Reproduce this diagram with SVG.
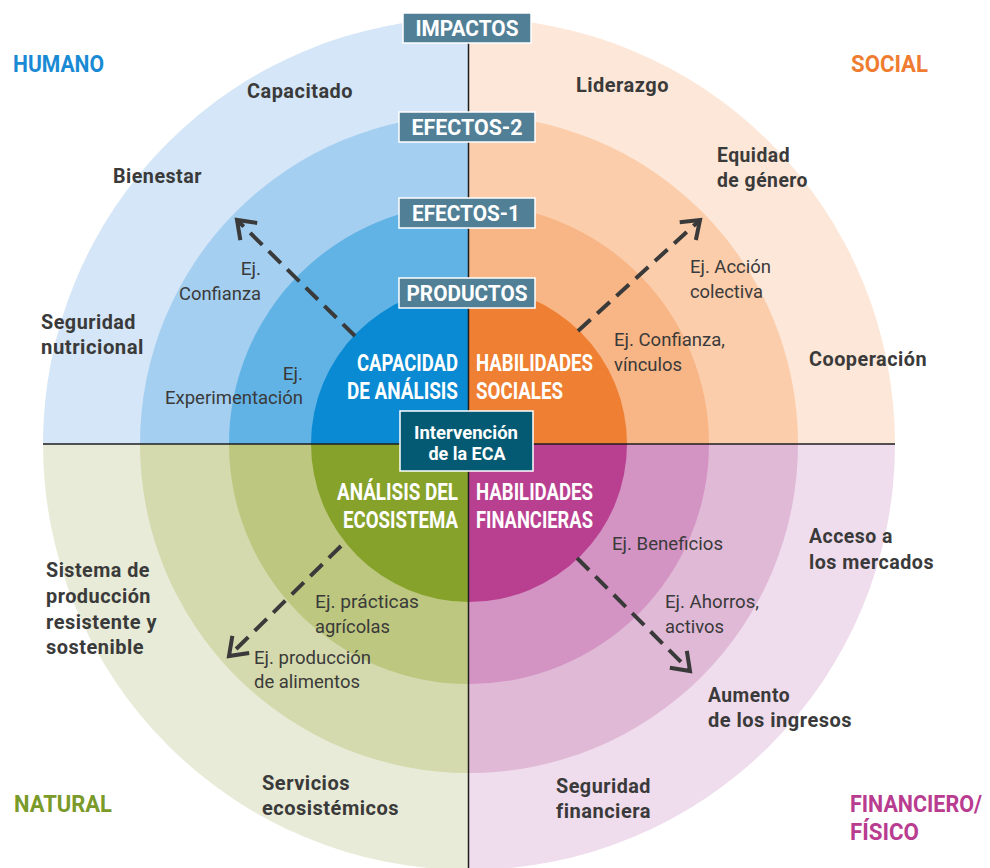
<svg xmlns="http://www.w3.org/2000/svg" width="990" height="868" viewBox="0 0 990 868">
<style>
text{font-family:Roboto,"Liberation Sans",sans-serif;}
.q{font-weight:700;font-size:23px;}
.o{font-weight:700;font-size:20px;fill:#3a3a3a;letter-spacing:0.5px;}
.e{font-size:19px;fill:#3a3a3a;}
.c{font-weight:700;font-size:23px;fill:#fff;}
.b{font-weight:700;font-size:22px;fill:#fff;text-anchor:middle;}
.box{fill:#517f96;stroke:#fff;stroke-width:1.5;}
.arr{fill:none;stroke:#3a3a3a;stroke-width:4;stroke-dasharray:17 9;marker-end:url(#ah);}
</style>
<defs>
<clipPath id="tl"><rect x="0" y="0" width="468.5" height="444"/></clipPath>
<clipPath id="tr"><rect x="468.5" y="0" width="521.5" height="444"/></clipPath>
<clipPath id="bl"><rect x="0" y="444" width="468.5" height="424"/></clipPath>
<clipPath id="br"><rect x="468.5" y="444" width="521.5" height="424"/></clipPath>
<marker id="ah" markerWidth="8" markerHeight="8" viewBox="0 0 8 8" refX="6.5" refY="4" orient="auto" markerUnits="userSpaceOnUse" overflow="visible">
<path d="M-10,-8 L6.5,4 L-10,16" fill="none" stroke="#3a3a3a" stroke-width="4" stroke-linejoin="miter"/>
</marker>
</defs>

<g id="humano" clip-path="url(#tl)">
<circle cx="469" cy="444" r="426" fill="#d4e6f7"/>
<circle cx="469" cy="444" r="329" fill="#a4cff0"/>
<circle cx="469" cy="444" r="240" fill="#62b3e5"/>
<circle cx="469" cy="444" r="158" fill="#0a8ad2"/>
</g>
<g id="social" clip-path="url(#tr)">
<circle cx="469" cy="444" r="426" fill="#fde7d8"/>
<circle cx="469" cy="444" r="329" fill="#fbcdab"/>
<circle cx="469" cy="444" r="240" fill="#f8b585"/>
<circle cx="469" cy="444" r="158" fill="#ef7f32"/>
</g>
<g id="natural" clip-path="url(#bl)">
<circle cx="469" cy="444" r="426" fill="#e8ebd7"/>
<circle cx="469" cy="444" r="329" fill="#d4daad"/>
<circle cx="469" cy="444" r="240" fill="#bdc780"/>
<circle cx="469" cy="444" r="158" fill="#86a22b"/>
</g>
<g id="financiero" clip-path="url(#br)">
<circle cx="469" cy="444" r="426" fill="#efdcec"/>
<circle cx="469" cy="444" r="329" fill="#e0b9d7"/>
<circle cx="469" cy="444" r="240" fill="#d394c3"/>
<circle cx="469" cy="444" r="158" fill="#b93f90"/>
</g>

<g id="connectors">
<line x1="468.5" y1="17" x2="468.5" y2="868" stroke="#1e1e1e" stroke-width="1.5"/>
<line x1="43" y1="444" x2="895" y2="444" stroke="#1e1e1e" stroke-width="1.5"/>
<path class="arr" d="M355,336 L237,220"/>
<path class="arr" d="M578,331 L700,220"/>
<path class="arr" d="M341,546 L229,656"/>
<path class="arr" d="M577,558 L690,671"/>
</g>

<g id="quadrant-labels">
<text class="q" x="13" y="72" fill="#1a8ad4" textLength="91" lengthAdjust="spacingAndGlyphs">HUMANO</text>
<text class="q" x="851" y="72" fill="#ef7d31" textLength="77" lengthAdjust="spacingAndGlyphs">SOCIAL</text>
<text class="q" x="14" y="812" fill="#7a9a2a" textLength="98" lengthAdjust="spacingAndGlyphs">NATURAL</text>
<text class="q" x="850" y="812" fill="#b83c8f" textLength="132" lengthAdjust="spacingAndGlyphs">FINANCIERO/</text>
<text class="q" x="850" y="840" fill="#b83c8f" textLength="69" lengthAdjust="spacingAndGlyphs">FÍSICO</text>
</g>

<g id="impactos-labels">
<text class="o" x="247" y="98" textLength="106" lengthAdjust="spacingAndGlyphs">Capacitado</text>
<text class="o" x="576" y="92" textLength="93" lengthAdjust="spacingAndGlyphs">Liderazgo</text>
<text class="o" x="113" y="183" textLength="89" lengthAdjust="spacingAndGlyphs">Bienestar</text>
<text class="o" x="717" y="162" textLength="73" lengthAdjust="spacingAndGlyphs">Equidad</text>
<text class="o" x="717" y="187" textLength="91" lengthAdjust="spacingAndGlyphs">de género</text>
<text class="o" x="41" y="329" textLength="95" lengthAdjust="spacingAndGlyphs">Seguridad</text>
<text class="o" x="41" y="354" textLength="103" lengthAdjust="spacingAndGlyphs">nutricional</text>
<text class="o" x="809" y="366" textLength="118" lengthAdjust="spacingAndGlyphs">Cooperación</text>
<text class="o" x="46" y="577" textLength="104" lengthAdjust="spacingAndGlyphs">Sistema de</text>
<text class="o" x="46" y="603" textLength="105" lengthAdjust="spacingAndGlyphs">producción</text>
<text class="o" x="46" y="629" textLength="111" lengthAdjust="spacingAndGlyphs">resistente y</text>
<text class="o" x="46" y="654" textLength="98" lengthAdjust="spacingAndGlyphs">sostenible</text>
<text class="o" x="809" y="543" textLength="84" lengthAdjust="spacingAndGlyphs">Acceso a</text>
<text class="o" x="809" y="569" textLength="125" lengthAdjust="spacingAndGlyphs">los mercados</text>
<text class="o" x="708" y="702" textLength="82" lengthAdjust="spacingAndGlyphs">Aumento</text>
<text class="o" x="708" y="727" textLength="144" lengthAdjust="spacingAndGlyphs">de los ingresos</text>
<text class="o" x="262" y="790" textLength="88" lengthAdjust="spacingAndGlyphs">Servicios</text>
<text class="o" x="262" y="815" textLength="137" lengthAdjust="spacingAndGlyphs">ecosistémicos</text>
<text class="o" x="556" y="793" textLength="95" lengthAdjust="spacingAndGlyphs">Seguridad</text>
<text class="o" x="556" y="818" textLength="95" lengthAdjust="spacingAndGlyphs">financiera</text>
</g>

<g id="efectos-labels">
<text class="e" x="261" y="275" text-anchor="end">Ej.</text>
<text class="e" x="179" y="300" textLength="82" lengthAdjust="spacingAndGlyphs">Confianza</text>
<text class="e" x="303" y="380" text-anchor="end">Ej.</text>
<text class="e" x="165" y="404" textLength="138" lengthAdjust="spacingAndGlyphs">Experimentación</text>
<text class="e" x="690" y="273" textLength="81" lengthAdjust="spacingAndGlyphs">Ej. Acción</text>
<text class="e" x="690" y="298" textLength="73" lengthAdjust="spacingAndGlyphs">colectiva</text>
<text class="e" x="614" y="346" textLength="111" lengthAdjust="spacingAndGlyphs">Ej. Confianza,</text>
<text class="e" x="614" y="371" textLength="68" lengthAdjust="spacingAndGlyphs">vínculos</text>
<text class="e" x="612" y="550" textLength="111" lengthAdjust="spacingAndGlyphs">Ej. Beneficios</text>
<text class="e" x="665" y="608" textLength="94" lengthAdjust="spacingAndGlyphs">Ej. Ahorros,</text>
<text class="e" x="665" y="633" textLength="59" lengthAdjust="spacingAndGlyphs">activos</text>
<text class="e" x="315" y="608" textLength="104" lengthAdjust="spacingAndGlyphs">Ej. prácticas</text>
<text class="e" x="315" y="633" textLength="75" lengthAdjust="spacingAndGlyphs">agrícolas</text>
<text class="e" x="254" y="664" textLength="117" lengthAdjust="spacingAndGlyphs">Ej. producción</text>
<text class="e" x="254" y="688" textLength="106" lengthAdjust="spacingAndGlyphs">de alimentos</text>
</g>

<g id="productos-labels">
<text class="c" x="357" y="371" textLength="101" lengthAdjust="spacingAndGlyphs">CAPACIDAD</text>
<text class="c" x="347" y="399" textLength="111" lengthAdjust="spacingAndGlyphs">DE ANÁLISIS</text>
<text class="c" x="476" y="371" textLength="117" lengthAdjust="spacingAndGlyphs">HABILIDADES</text>
<text class="c" x="476" y="399" textLength="87" lengthAdjust="spacingAndGlyphs">SOCIALES</text>
<text class="c" x="337" y="500" textLength="121" lengthAdjust="spacingAndGlyphs">ANÁLISIS DEL</text>
<text class="c" x="343" y="528" textLength="115" lengthAdjust="spacingAndGlyphs">ECOSISTEMA</text>
<text class="c" x="476" y="500" textLength="117" lengthAdjust="spacingAndGlyphs">HABILIDADES</text>
<text class="c" x="476" y="528" textLength="117" lengthAdjust="spacingAndGlyphs">FINANCIERAS</text>
</g>

<g id="box-impactos">
<rect class="box" x="403" y="13" width="128" height="30"/>
<text class="b" x="467" y="36" textLength="103" lengthAdjust="spacingAndGlyphs">IMPACTOS</text>
</g>
<g id="box-efectos2">
<rect class="box" x="399" y="112" width="136" height="30"/>
<text class="b" x="467" y="135" textLength="111" lengthAdjust="spacingAndGlyphs">EFECTOS-2</text>
</g>
<g id="box-efectos1">
<rect class="box" x="399" y="198" width="136" height="30"/>
<text class="b" x="466" y="221" textLength="108" lengthAdjust="spacingAndGlyphs">EFECTOS-1</text>
</g>
<g id="box-productos">
<rect class="box" x="399" y="278" width="136" height="30"/>
<text class="b" x="467" y="301" textLength="121" lengthAdjust="spacingAndGlyphs">PRODUCTOS</text>
</g>
<g id="intervencion">
<rect x="400" y="411" width="133" height="60" fill="#045a73" stroke="#fff" stroke-width="1.5"/>
<text x="466" y="439" text-anchor="middle" font-weight="700" font-size="19" fill="#fff" textLength="104" lengthAdjust="spacingAndGlyphs">Intervención</text>
<text x="467" y="460" text-anchor="middle" font-weight="700" font-size="19" fill="#fff" textLength="77" lengthAdjust="spacingAndGlyphs">de la ECA</text>
</g>
</svg>
